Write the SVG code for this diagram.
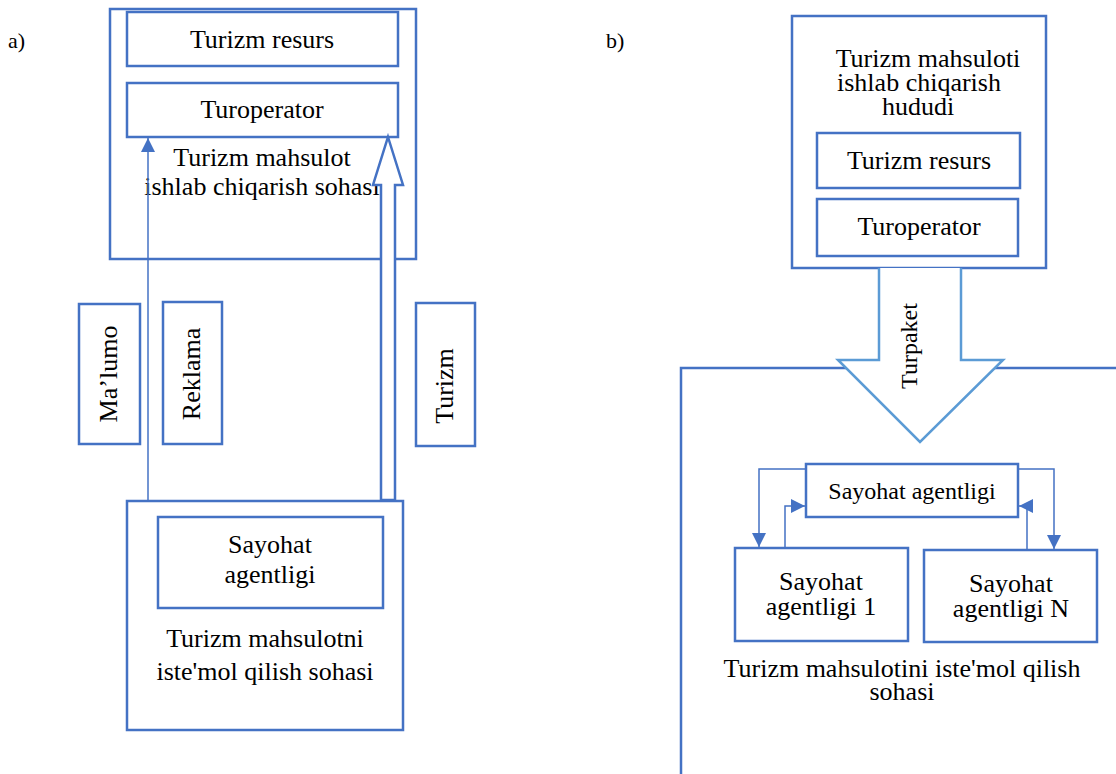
<svg xmlns="http://www.w3.org/2000/svg" width="1116" height="774" viewBox="0 0 1116 774" font-family="'Liberation Serif', 'DejaVu Serif', serif">
<defs>
<style>
.box{fill:#fff;stroke:#4472C4;stroke-width:2.5}
.frame{fill:none;stroke:#4472C4;stroke-width:2.5}
text{font-family:'Liberation Serif','DejaVu Serif',serif}
.t{font-size:26px;fill:#000;text-anchor:middle}
.s24{font-size:24px}
.lbl{font-size:22px;fill:#000}
.line{fill:none;stroke:#4472C4;stroke-width:1.5}
.big{fill:#fff;stroke:#4472C4;stroke-width:2.5}
.bigb{fill:#fff;stroke:#5B9BD5;stroke-width:2.5}
</style>
<marker id="ah2" viewBox="0 0 10 10" refX="10" refY="5" markerWidth="14" markerHeight="14" markerUnits="userSpaceOnUse" orient="auto">
<path d="M0,0 L10,5 L0,10 z" fill="#4472C4"/>
</marker>
</defs>

<text class="lbl" x="8" y="48">a)</text>
<text class="lbl" x="606" y="48">b)</text>

<!-- Diagram a -->
<g id="a-production">
<rect class="box" x="110" y="9" width="306" height="250"/>
<text class="t" x="262" y="166">Turizm mahsulot</text>
<text class="t" x="262" y="195">ishlab chiqarish sohasi</text>
</g>
<g id="a-resurs">
<rect class="box" x="127" y="12" width="271" height="54"/>
<text class="t" x="262" y="48">Turizm resurs</text>
</g>
<g id="a-turoperator">
<rect class="box" x="127" y="83" width="271" height="54"/>
<text class="t" x="262" y="118">Turoperator</text>
</g>
<g id="a-malumot">
<rect class="box" x="79" y="304" width="61" height="140"/>
<text class="t" transform="translate(117,374) rotate(-90)">Ma’lumo</text>
</g>
<g id="a-reklama">
<rect class="box" x="163" y="302" width="59" height="142"/>
<text class="t" transform="translate(200,374) rotate(-90)">Reklama</text>
</g>
<g id="a-turizm">
<rect class="box" x="416" y="303" width="59" height="143"/>
<text class="t" transform="translate(453,386) rotate(-90)">Turizm</text>
</g>
<g id="a-consumption">
<rect class="box" x="127" y="501" width="276" height="229"/>
<text class="t" x="265" y="647">Turizm mahsulotni</text>
<text class="t" x="265" y="680">iste'mol qilish sohasi</text>
</g>
<g id="a-sayohat">
<rect class="box" x="158" y="517" width="225" height="91"/>
<text class="t" x="270" y="553">Sayohat</text>
<text class="t" x="270" y="583">agentligi</text>
</g>

<!-- Diagram b -->
<g id="b-lower-frame">
<path class="frame" d="M1118,368 H681 V774"/>
</g>
<g id="b-production">
<rect class="box" x="792" y="16" width="254" height="252"/>
<text class="t" x="928" y="67">Turizm mahsuloti</text>
<text class="t" x="919" y="91">ishlab chiqarish</text>
<text class="t" x="918" y="115">hududi</text>
</g>
<g id="b-resurs">
<rect class="box" x="817" y="133" width="203" height="55"/>
<text class="t" x="919" y="169">Turizm resurs</text>
</g>
<g id="b-turoperator">
<rect class="box" x="817" y="199" width="201" height="57"/>
<text class="t" x="919" y="235">Turoperator</text>
</g>
<g id="b-sayohat">
<rect class="box" x="806" y="464" width="212" height="53"/>
<text class="t s24" x="912" y="499">Sayohat agentligi</text>
</g>
<g id="b-sayohat1">
<rect class="box" x="735" y="548" width="173" height="93"/>
<text class="t" x="821" y="590">Sayohat</text>
<text class="t" x="821" y="615">agentligi 1</text>
</g>
<g id="b-sayohatN">
<rect class="box" x="924" y="550" width="173" height="92"/>
<text class="t" x="1011" y="592">Sayohat</text>
<text class="t" x="1011" y="617">agentligi N</text>
</g>
<text class="t" x="902" y="677">Turizm mahsulotini iste'mol qilish</text>
<text class="t" x="902" y="700">sohasi</text>

<!-- Connectors -->
<g id="connectors">
<line class="line" x1="148" y1="500" x2="148" y2="138" marker-end="url(#ah2)"/>
<path class="big" d="M388,137 L403,185 L395,185 L395,500 L381,500 L381,185 L373,185 Z"/>
<path class="bigb" d="M879,268 L879,360 L838,360 L920,442 L1003,360 L961,360 L961,268"/>
<text class="t s24" transform="translate(917,346) rotate(-90)">Turpaket</text>
<polyline class="line" points="806,469 759,469 759,547" marker-end="url(#ah2)"/>
<polyline class="line" points="785,548 785,506 805,506" marker-end="url(#ah2)"/>
<polyline class="line" points="1018,469 1054,469 1054,549" marker-end="url(#ah2)"/>
<polyline class="line" points="1027,550 1027,506 1019,506" marker-end="url(#ah2)"/>
</g>
</svg>
